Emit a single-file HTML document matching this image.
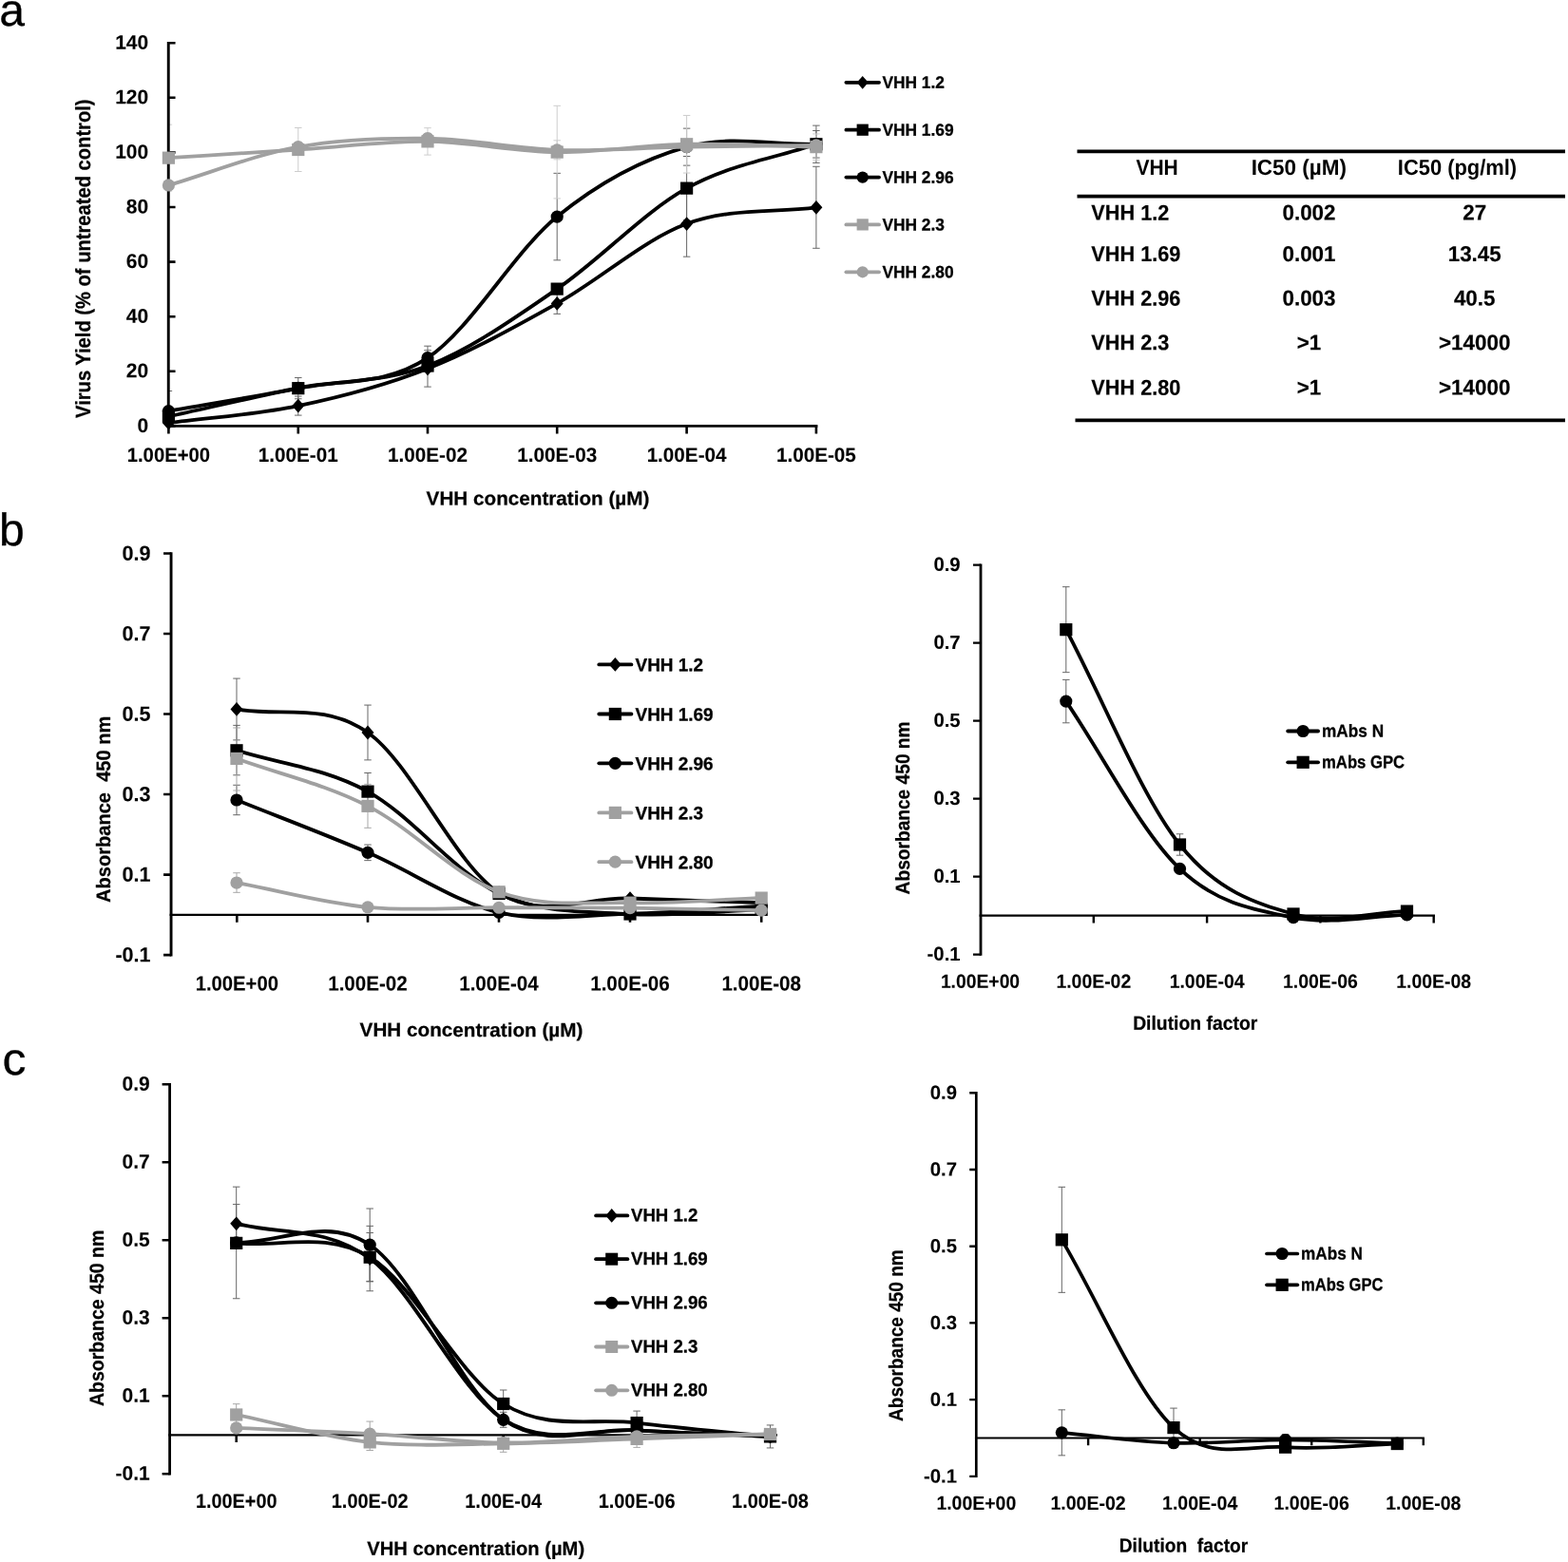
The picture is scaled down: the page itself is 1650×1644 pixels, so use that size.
<!DOCTYPE html>
<html lang="en">
<head>
<meta charset="utf-8">
<title>Figure: VHH neutralisation and ELISA binding</title>
<style>
html,body{margin:0;padding:0;background:#fff;}
body{width:1650px;height:1644px;overflow:hidden;}
svg{display:block;}
text{white-space:pre;text-rendering:geometricPrecision;stroke:#000;stroke-width:0.1px;stroke-linejoin:round;}
text.lg{stroke-width:0.3px;}
text.tt{stroke-width:0.25px;}
text.pl{stroke-width:0.3px;}
text.th{stroke:none;}
text.tb{stroke-width:0.2px;}
</style>
</head>
<body>
<svg width="1650" height="1644" viewBox="0 0 1650 1644" font-family='"Liberation Sans", "DejaVu Sans", sans-serif' font-weight="bold" fill="#000">
<rect width="1650" height="1644" fill="#fff"/>
<text x="-0.7" y="27" font-size="48" transform="rotate(0.04 -0.7 27)" font-weight="normal" class="pl">a</text>
<text x="-1" y="574" font-size="48" transform="rotate(0.04 -1 574)" font-weight="normal" class="pl">b</text>
<text x="2.6" y="1131" font-size="48" textLength="24.96" lengthAdjust="spacingAndGlyphs" transform="rotate(0.04 2.6 1131)" font-weight="normal" class="pl">c</text>
<g>
<clipPath id="pa1"><rect x="177.25" y="15.2" width="713.15" height="433.2"/></clipPath>
<g clip-path="url(#pa1)">
<path d="M313.8 417.09V437.09M310.05 417.09H317.55M310.05 437.09H317.55" stroke="#676767" stroke-width="1" fill="none"/>
<path d="M450 368.72V407.12M446.25 368.72H453.75M446.25 407.12H453.75" stroke="#676767" stroke-width="1" fill="none"/>
<path d="M586.2 308.38V330.38M582.45 308.38H589.95M582.45 330.38H589.95" stroke="#676767" stroke-width="1" fill="none"/>
<path d="M722.6 200.97V270.17M718.85 200.97H726.35M718.85 270.17H726.35" stroke="#676767" stroke-width="1" fill="none"/>
<path d="M858.9 175.29V261.29M855.15 175.29H862.65M855.15 261.29H862.65" stroke="#676767" stroke-width="1" fill="none"/>
<path d="M313.8 397.56V419.76M310.05 397.56H317.55M310.05 419.76H317.55" stroke="#676767" stroke-width="1" fill="none"/>
<path d="M586.2 300.11V308.11M582.45 300.11H589.95M582.45 308.11H589.95" stroke="#676767" stroke-width="1" fill="none"/>
<path d="M722.6 164.53V231.73M718.85 164.53H726.35M718.85 231.73H726.35" stroke="#676767" stroke-width="1" fill="none"/>
<path d="M858.9 132.11V171.41M855.15 132.11H862.65M855.15 171.41H862.65" stroke="#676767" stroke-width="1" fill="none"/>
<path d="M177.4 411.56V453.56M173.65 411.56H181.15M173.65 453.56H181.15" stroke="#676767" stroke-width="1" fill="none"/>
<path d="M313.8 405.37V411.37M310.05 405.37H317.55M310.05 411.37H317.55" stroke="#676767" stroke-width="1" fill="none"/>
<path d="M450 364.19V389.19M446.25 364.19H453.75M446.25 389.19H453.75" stroke="#676767" stroke-width="1" fill="none"/>
<path d="M586.2 182.33V273.83M582.45 182.33H589.95M582.45 273.83H589.95" stroke="#676767" stroke-width="1" fill="none"/>
<path d="M722.6 135.14V174.14M718.85 135.14H726.35M718.85 174.14H726.35" stroke="#676767" stroke-width="1" fill="none"/>
<path d="M858.9 137.46V166.06M855.15 137.46H862.65M855.15 166.06H862.65" stroke="#676767" stroke-width="1" fill="none"/>
<path d="M177.4 131.16V201.16M173.65 131.16H181.15M173.65 201.16H181.15" stroke="#cdcdcd" stroke-width="1" fill="none"/>
<path d="M313.8 134.52V180.52M310.05 134.52H317.55M310.05 180.52H317.55" stroke="#cdcdcd" stroke-width="1" fill="none"/>
<path d="M450 134.68V163.08M446.25 134.68H453.75M446.25 163.08H453.75" stroke="#cdcdcd" stroke-width="1" fill="none"/>
<path d="M586.2 111.31V208.91M582.45 111.31H589.95M582.45 208.91H589.95" stroke="#cdcdcd" stroke-width="1" fill="none"/>
<path d="M722.6 121.46V182.06M718.85 121.46H726.35M718.85 182.06H726.35" stroke="#cdcdcd" stroke-width="1" fill="none"/>
<path d="M858.9 140.94V168.34M855.15 140.94H862.65M855.15 168.34H862.65" stroke="#cdcdcd" stroke-width="1" fill="none"/>
<path d="M313.8 149.64V159.64M310.05 149.64H317.55M310.05 159.64H317.55" stroke="#cdcdcd" stroke-width="1" fill="none"/>
<path d="M450 140.71V150.71M446.25 140.71H453.75M446.25 150.71H453.75" stroke="#cdcdcd" stroke-width="1" fill="none"/>
<path d="M586.2 147.81V167.81M582.45 147.81H589.95M582.45 167.81H589.95" stroke="#cdcdcd" stroke-width="1" fill="none"/>
</g>
<path d="M177.25 43.9V449.7" stroke="#000" stroke-width="2.9" fill="none"/>
<path d="M177.25 448.4H184.55M177.25 390.8H184.55M177.25 333.2H184.55M177.25 275.6H184.55M177.25 218H184.55M177.25 160.4H184.55M177.25 102.8H184.55M177.25 45.2H184.55" stroke="#000" stroke-width="2.6" fill="none"/>
<path d="M175.8 448.4H860.4" stroke="#000" stroke-width="2.9" fill="none"/>
<path d="M177.4 448.4V456.4M313.8 448.4V456.4M450 448.4V456.4M586.2 448.4V456.4M722.6 448.4V456.4M858.9 448.4V456.4" stroke="#000" stroke-width="2.6" fill="none"/>
<text x="156.2" y="454.9" font-size="21.1" text-anchor="end" textLength="11.68" lengthAdjust="spacingAndGlyphs" transform="rotate(0.04 156.2 454.9)">0</text>
<text x="156.2" y="397.3" font-size="21.1" text-anchor="end" textLength="23.35" lengthAdjust="spacingAndGlyphs" transform="rotate(0.04 156.2 397.3)">20</text>
<text x="156.2" y="339.7" font-size="21.1" text-anchor="end" textLength="23.35" lengthAdjust="spacingAndGlyphs" transform="rotate(0.04 156.2 339.7)">40</text>
<text x="156.2" y="282.1" font-size="21.1" text-anchor="end" textLength="23.35" lengthAdjust="spacingAndGlyphs" transform="rotate(0.04 156.2 282.1)">60</text>
<text x="156.2" y="224.5" font-size="21.1" text-anchor="end" textLength="23.35" lengthAdjust="spacingAndGlyphs" transform="rotate(0.04 156.2 224.5)">80</text>
<text x="156.2" y="166.9" font-size="21.1" text-anchor="end" textLength="35.03" lengthAdjust="spacingAndGlyphs" transform="rotate(0.04 156.2 166.9)">100</text>
<text x="156.2" y="109.3" font-size="21.1" text-anchor="end" textLength="35.03" lengthAdjust="spacingAndGlyphs" transform="rotate(0.04 156.2 109.3)">120</text>
<text x="156.2" y="51.7" font-size="21.1" text-anchor="end" textLength="35.03" lengthAdjust="spacingAndGlyphs" transform="rotate(0.04 156.2 51.7)">140</text>
<text x="177.4" y="486" font-size="21.1" text-anchor="middle" textLength="87.42" lengthAdjust="spacingAndGlyphs" transform="rotate(0.04 177.4 486)">1.00E+00</text>
<text x="313.8" y="486" font-size="21.1" text-anchor="middle" textLength="83.92" lengthAdjust="spacingAndGlyphs" transform="rotate(0.04 313.8 486)">1.00E-01</text>
<text x="450" y="486" font-size="21.1" text-anchor="middle" textLength="83.92" lengthAdjust="spacingAndGlyphs" transform="rotate(0.04 450 486)">1.00E-02</text>
<text x="586.2" y="486" font-size="21.1" text-anchor="middle" textLength="83.92" lengthAdjust="spacingAndGlyphs" transform="rotate(0.04 586.2 486)">1.00E-03</text>
<text x="722.6" y="486" font-size="21.1" text-anchor="middle" textLength="83.92" lengthAdjust="spacingAndGlyphs" transform="rotate(0.04 722.6 486)">1.00E-04</text>
<text x="858.9" y="486" font-size="21.1" text-anchor="middle" textLength="83.92" lengthAdjust="spacingAndGlyphs" transform="rotate(0.04 858.9 486)">1.00E-05</text>
<text x="95.3" y="272.2" font-size="22" text-anchor="middle" textLength="335.5" lengthAdjust="spacingAndGlyphs" transform="rotate(-90 95.3 272.2)" class="tt">Virus Yield (% of untreated control)</text>
<text x="566" y="531.5" font-size="20.4" text-anchor="middle" textLength="234.77" lengthAdjust="spacingAndGlyphs" transform="rotate(0.04 566 531.5)" class="tt">VHH concentration (µM)</text>
<path d="M177.4 445.23C222.87 439.18 268.37 436.64 313.8 427.09C359.23 417.54 404.6 405.87 450 387.92C495.4 369.97 540.77 344.77 586.2 319.38C631.63 293.98 677.15 252.42 722.6 235.57C768.05 218.72 813.47 224.05 858.9 218.29" stroke="#000" stroke-width="3.8" fill="none" stroke-linecap="round" stroke-linejoin="round"/>
<path d="M177.4 437.84L183.87 445.23L177.4 452.62L170.93 445.23Z" fill="#000"/>
<path d="M313.8 419.7L320.27 427.09L313.8 434.48L307.33 427.09Z" fill="#000"/>
<path d="M450 380.53L456.47 387.92L450 395.31L443.53 387.92Z" fill="#000"/>
<path d="M586.2 311.98L592.67 319.38L586.2 326.77L579.73 319.38Z" fill="#000"/>
<path d="M722.6 228.18L729.07 235.57L722.6 242.96L716.13 235.57Z" fill="#000"/>
<path d="M858.9 210.9L865.37 218.29L858.9 225.68L852.43 218.29Z" fill="#000"/>
<path d="M177.4 438.32C222.87 428.43 268.37 417.54 313.8 408.66C359.23 399.78 404.6 402.46 450 385.04C495.4 367.62 540.77 335.26 586.2 304.11C631.63 272.96 677.15 223.52 722.6 198.13C768.05 172.74 813.47 167.22 858.9 151.76" stroke="#000" stroke-width="3.8" fill="none" stroke-linecap="round" stroke-linejoin="round"/>
<rect x="170.8" y="431.72" width="13.2" height="13.2" fill="#000"/>
<rect x="307.2" y="402.06" width="13.2" height="13.2" fill="#000"/>
<rect x="443.4" y="378.44" width="13.2" height="13.2" fill="#000"/>
<rect x="579.6" y="297.51" width="13.2" height="13.2" fill="#000"/>
<rect x="716" y="191.53" width="13.2" height="13.2" fill="#000"/>
<rect x="852.3" y="145.16" width="13.2" height="13.2" fill="#000"/>
<path d="M177.4 432.56C222.87 424.5 268.37 417.68 313.8 408.37C359.23 399.06 404.6 406.74 450 376.69C495.4 346.64 540.77 265.09 586.2 228.08C631.63 191.07 677.15 167.36 722.6 154.64C768.05 141.92 813.47 152.72 858.9 151.76" stroke="#000" stroke-width="3.8" fill="none" stroke-linecap="round" stroke-linejoin="round"/>
<circle cx="177.4" cy="432.56" r="6.6" fill="#000"/>
<circle cx="313.8" cy="408.37" r="6.6" fill="#000"/>
<circle cx="450" cy="376.69" r="6.6" fill="#000"/>
<circle cx="586.2" cy="228.08" r="6.6" fill="#000"/>
<circle cx="722.6" cy="154.64" r="6.6" fill="#000"/>
<circle cx="858.9" cy="151.76" r="6.6" fill="#000"/>
<path d="M177.4 166.16C222.87 163.28 268.37 160.4 313.8 157.52C359.23 154.64 404.6 148.45 450 148.88C495.4 149.31 540.77 159.63 586.2 160.11C631.63 160.59 677.15 152.67 722.6 151.76C768.05 150.85 813.47 153.68 858.9 154.64" stroke="#a0a0a0" stroke-width="3.8" fill="none" stroke-linecap="round" stroke-linejoin="round"/>
<rect x="170.8" y="159.56" width="13.2" height="13.2" fill="#a0a0a0"/>
<rect x="307.2" y="150.92" width="13.2" height="13.2" fill="#a0a0a0"/>
<rect x="443.4" y="142.28" width="13.2" height="13.2" fill="#a0a0a0"/>
<rect x="579.6" y="153.51" width="13.2" height="13.2" fill="#a0a0a0"/>
<rect x="716" y="145.16" width="13.2" height="13.2" fill="#a0a0a0"/>
<rect x="852.3" y="148.04" width="13.2" height="13.2" fill="#a0a0a0"/>
<path d="M177.4 194.96C222.87 181.52 268.37 162.85 313.8 154.64C359.23 146.43 404.6 145.18 450 145.71C495.4 146.24 540.77 156.32 586.2 157.81C631.63 159.3 677.15 155.46 722.6 154.64C768.05 153.82 813.47 153.49 858.9 152.91" stroke="#a0a0a0" stroke-width="3.8" fill="none" stroke-linecap="round" stroke-linejoin="round"/>
<circle cx="177.4" cy="194.96" r="6.6" fill="#a0a0a0"/>
<circle cx="313.8" cy="154.64" r="6.6" fill="#a0a0a0"/>
<circle cx="450" cy="145.71" r="6.6" fill="#a0a0a0"/>
<circle cx="586.2" cy="157.81" r="6.6" fill="#a0a0a0"/>
<circle cx="722.6" cy="154.64" r="6.6" fill="#a0a0a0"/>
<circle cx="858.9" cy="152.91" r="6.6" fill="#a0a0a0"/>
<path d="M890.4 86.8H925" stroke="#000" stroke-width="3.8" stroke-linecap="round" fill="none"/>
<path d="M907.7 79.97L913.68 86.8L907.7 93.63L901.72 86.8Z" fill="#000"/>
<text x="928.4" y="92.8" font-size="17.8" textLength="65.59" lengthAdjust="spacingAndGlyphs" transform="rotate(0.04 928.4 92.8)" class="lg">VHH 1.2</text>
<path d="M890.4 136.7H925" stroke="#000" stroke-width="3.8" stroke-linecap="round" fill="none"/>
<rect x="901.6" y="130.6" width="12.2" height="12.2" fill="#000"/>
<text x="928.4" y="142.7" font-size="17.8" textLength="75.24" lengthAdjust="spacingAndGlyphs" transform="rotate(0.04 928.4 142.7)" class="lg">VHH 1.69</text>
<path d="M890.4 186.6H925" stroke="#000" stroke-width="3.8" stroke-linecap="round" fill="none"/>
<circle cx="907.7" cy="186.6" r="6.1" fill="#000"/>
<text x="928.4" y="192.6" font-size="17.8" textLength="75.24" lengthAdjust="spacingAndGlyphs" transform="rotate(0.04 928.4 192.6)" class="lg">VHH 2.96</text>
<path d="M890.4 236.4H925" stroke="#a0a0a0" stroke-width="3.8" stroke-linecap="round" fill="none"/>
<rect x="901.6" y="230.3" width="12.2" height="12.2" fill="#a0a0a0"/>
<text x="928.4" y="242.4" font-size="17.8" textLength="65.59" lengthAdjust="spacingAndGlyphs" transform="rotate(0.04 928.4 242.4)" class="lg">VHH 2.3</text>
<path d="M890.4 286.3H925" stroke="#a0a0a0" stroke-width="3.8" stroke-linecap="round" fill="none"/>
<circle cx="907.7" cy="286.3" r="6.1" fill="#a0a0a0"/>
<text x="928.4" y="292.3" font-size="17.8" textLength="75.24" lengthAdjust="spacingAndGlyphs" transform="rotate(0.04 928.4 292.3)" class="lg">VHH 2.80</text>
</g>
<g>
<clipPath id="pa2"><rect x="180.05" y="552.51" width="652.55" height="452.6"/></clipPath>
<g clip-path="url(#pa2)">
<path d="M249 714.08V778.88M245.25 714.08H252.75M245.25 778.88H252.75" stroke="#676767" stroke-width="1" fill="none"/>
<path d="M387 742.09V799.89M383.25 742.09H390.75M383.25 799.89H390.75" stroke="#676767" stroke-width="1" fill="none"/>
<path d="M249 763.4V815.8M245.25 763.4H252.75M245.25 815.8H252.75" stroke="#676767" stroke-width="1" fill="none"/>
<path d="M387 813.51V852.71M383.25 813.51H390.75M383.25 852.71H390.75" stroke="#676767" stroke-width="1" fill="none"/>
<path d="M249 826.29V857.69M245.25 826.29H252.75M245.25 857.69H252.75" stroke="#676767" stroke-width="1" fill="none"/>
<path d="M387 889.05V905.65M383.25 889.05H390.75M383.25 905.65H390.75" stroke="#676767" stroke-width="1" fill="none"/>
<path d="M249 766V832M245.25 766H252.75M245.25 832H252.75" stroke="#a8a8a8" stroke-width="1" fill="none"/>
<path d="M387 825.33V871.33M383.25 825.33H390.75M383.25 871.33H390.75" stroke="#a8a8a8" stroke-width="1" fill="none"/>
<path d="M249 918.74V939.34M245.25 918.74H252.75M245.25 939.34H252.75" stroke="#a8a8a8" stroke-width="1" fill="none"/>
</g>
<path d="M180.05 581.21V1006.41" stroke="#000" stroke-width="2.9" fill="none"/>
<path d="M180.05 1005.11H172.05M180.05 920.59H172.05M180.05 836.07H172.05M180.05 751.55H172.05M180.05 667.03H172.05M180.05 582.51H172.05" stroke="#000" stroke-width="2.6" fill="none"/>
<path d="M178.6 962.85H802.6" stroke="#000" stroke-width="2.3" fill="none"/>
<path d="M249.3 962.85V970.65M387 962.85V970.65M525 962.85V970.65M663 962.85V970.65M801.2 962.85V970.65" stroke="#000" stroke-width="2.6" fill="none"/>
<text x="158.6" y="1012.31" font-size="21.9" text-anchor="end" textLength="37.17" lengthAdjust="spacingAndGlyphs" transform="rotate(0.04 158.6 1012.31)">-0.1</text>
<text x="158.6" y="927.79" font-size="21.9" text-anchor="end" textLength="29.99" lengthAdjust="spacingAndGlyphs" transform="rotate(0.04 158.6 927.79)">0.1</text>
<text x="158.6" y="843.27" font-size="21.9" text-anchor="end" textLength="29.99" lengthAdjust="spacingAndGlyphs" transform="rotate(0.04 158.6 843.27)">0.3</text>
<text x="158.6" y="758.75" font-size="21.9" text-anchor="end" textLength="29.99" lengthAdjust="spacingAndGlyphs" transform="rotate(0.04 158.6 758.75)">0.5</text>
<text x="158.6" y="674.23" font-size="21.9" text-anchor="end" textLength="29.99" lengthAdjust="spacingAndGlyphs" transform="rotate(0.04 158.6 674.23)">0.7</text>
<text x="158.6" y="589.71" font-size="21.9" text-anchor="end" textLength="29.99" lengthAdjust="spacingAndGlyphs" transform="rotate(0.04 158.6 589.71)">0.9</text>
<text x="249.3" y="1042.6" font-size="21.9" text-anchor="middle" textLength="87.3" lengthAdjust="spacingAndGlyphs" transform="rotate(0.04 249.3 1042.6)">1.00E+00</text>
<text x="387" y="1042.6" font-size="21.9" text-anchor="middle" textLength="83.6" lengthAdjust="spacingAndGlyphs" transform="rotate(0.04 387 1042.6)">1.00E-02</text>
<text x="525" y="1042.6" font-size="21.9" text-anchor="middle" textLength="83.6" lengthAdjust="spacingAndGlyphs" transform="rotate(0.04 525 1042.6)">1.00E-04</text>
<text x="663" y="1042.6" font-size="21.9" text-anchor="middle" textLength="83.6" lengthAdjust="spacingAndGlyphs" transform="rotate(0.04 663 1042.6)">1.00E-06</text>
<text x="801.2" y="1042.6" font-size="21.9" text-anchor="middle" textLength="83.6" lengthAdjust="spacingAndGlyphs" transform="rotate(0.04 801.2 1042.6)">1.00E-08</text>
<text x="116.3" y="851.8" font-size="20.8" text-anchor="middle" textLength="196.33" lengthAdjust="spacingAndGlyphs" transform="rotate(-90 116.3 851.8)" class="tt">Absorbance  450 nm</text>
<text x="496" y="1090.9" font-size="20.4" text-anchor="middle" textLength="234.77" lengthAdjust="spacingAndGlyphs" transform="rotate(0.04 496 1090.9)" class="tt">VHH concentration (µM)</text>
<path d="M249 746.48C295 754.65 340.98 738.8 387 770.99C433.02 803.18 479.1 910.52 525.1 939.61C571.1 968.7 616.98 943.76 663 945.52C709.02 947.28 755.13 948.62 801.2 950.17" stroke="#000" stroke-width="3.8" fill="none" stroke-linecap="round" stroke-linejoin="round"/>
<path d="M249 739.09L255.47 746.48L249 753.87L242.53 746.48Z" fill="#000"/>
<path d="M387 763.6L393.47 770.99L387 778.38L380.53 770.99Z" fill="#000"/>
<path d="M525.1 932.21L531.57 939.61L525.1 947L518.63 939.61Z" fill="#000"/>
<path d="M663 938.13L669.47 945.52L663 952.92L656.53 945.52Z" fill="#000"/>
<path d="M801.2 942.78L807.67 950.17L801.2 957.56L794.73 950.17Z" fill="#000"/>
<path d="M249 789.8C295 804.23 340.98 808 387 833.11C433.02 858.22 479.1 918.97 525.1 940.45C571.1 961.93 616.98 959.19 663 962C709.02 964.82 755.13 958.91 801.2 957.36" stroke="#000" stroke-width="3.8" fill="none" stroke-linecap="round" stroke-linejoin="round"/>
<rect x="242.4" y="783.2" width="13.2" height="13.2" fill="#000"/>
<rect x="380.4" y="826.51" width="13.2" height="13.2" fill="#000"/>
<rect x="518.5" y="933.85" width="13.2" height="13.2" fill="#000"/>
<rect x="656.4" y="955.4" width="13.2" height="13.2" fill="#000"/>
<rect x="794.6" y="950.76" width="13.2" height="13.2" fill="#000"/>
<path d="M249 841.99C295 860.44 340.98 877.63 387 897.35C433.02 917.07 479.1 949.61 525.1 960.31C571.1 971.02 616.98 962.71 663 961.58C709.02 960.46 755.13 956.23 801.2 953.55" stroke="#000" stroke-width="3.8" fill="none" stroke-linecap="round" stroke-linejoin="round"/>
<circle cx="249" cy="841.99" r="6.6" fill="#000"/>
<circle cx="387" cy="897.35" r="6.6" fill="#000"/>
<circle cx="525.1" cy="960.31" r="6.6" fill="#000"/>
<circle cx="663" cy="961.58" r="6.6" fill="#000"/>
<circle cx="801.2" cy="953.55" r="6.6" fill="#000"/>
<path d="M249 798.46C295 815.08 340.98 824.94 387 848.33C433.02 871.71 479.1 921.79 525.1 938.76C571.1 955.74 616.98 949.12 663 950.17C709.02 951.23 755.13 946.79 801.2 945.1" stroke="#a0a0a0" stroke-width="3.8" fill="none" stroke-linecap="round" stroke-linejoin="round"/>
<rect x="242.4" y="791.86" width="13.2" height="13.2" fill="#a0a0a0"/>
<rect x="380.4" y="841.73" width="13.2" height="13.2" fill="#a0a0a0"/>
<rect x="518.5" y="932.16" width="13.2" height="13.2" fill="#a0a0a0"/>
<rect x="656.4" y="943.57" width="13.2" height="13.2" fill="#a0a0a0"/>
<rect x="794.6" y="938.5" width="13.2" height="13.2" fill="#a0a0a0"/>
<path d="M249 929.04C295 937.63 340.98 950.45 387 954.82C433.02 959.19 479.1 955.1 525.1 955.24C571.1 955.38 616.98 955.17 663 955.67C709.02 956.16 755.13 957.36 801.2 958.2" stroke="#a0a0a0" stroke-width="3.8" fill="none" stroke-linecap="round" stroke-linejoin="round"/>
<circle cx="249" cy="929.04" r="6.6" fill="#a0a0a0"/>
<circle cx="387" cy="954.82" r="6.6" fill="#a0a0a0"/>
<circle cx="525.1" cy="955.24" r="6.6" fill="#a0a0a0"/>
<circle cx="663" cy="955.67" r="6.6" fill="#a0a0a0"/>
<circle cx="801.2" cy="958.2" r="6.6" fill="#a0a0a0"/>
<path d="M630.3 699.4H664.4" stroke="#000" stroke-width="3.8" stroke-linecap="round" fill="none"/>
<path d="M647.35 692.01L653.82 699.4L647.35 706.79L640.88 699.4Z" fill="#000"/>
<text x="668.5" y="706.3" font-size="19.1" textLength="71.61" lengthAdjust="spacingAndGlyphs" transform="rotate(0.04 668.5 706.3)" class="lg">VHH 1.2</text>
<path d="M630.3 751.5H664.4" stroke="#000" stroke-width="3.8" stroke-linecap="round" fill="none"/>
<rect x="640.75" y="744.9" width="13.2" height="13.2" fill="#000"/>
<text x="668.5" y="758.4" font-size="19.1" textLength="82.14" lengthAdjust="spacingAndGlyphs" transform="rotate(0.04 668.5 758.4)" class="lg">VHH 1.69</text>
<path d="M630.3 803.3H664.4" stroke="#000" stroke-width="3.8" stroke-linecap="round" fill="none"/>
<circle cx="647.35" cy="803.3" r="6.6" fill="#000"/>
<text x="668.5" y="810.2" font-size="19.1" textLength="82.14" lengthAdjust="spacingAndGlyphs" transform="rotate(0.04 668.5 810.2)" class="lg">VHH 2.96</text>
<path d="M630.3 855.4H664.4" stroke="#a0a0a0" stroke-width="3.8" stroke-linecap="round" fill="none"/>
<rect x="640.75" y="848.8" width="13.2" height="13.2" fill="#a0a0a0"/>
<text x="668.5" y="862.3" font-size="19.1" textLength="71.61" lengthAdjust="spacingAndGlyphs" transform="rotate(0.04 668.5 862.3)" class="lg">VHH 2.3</text>
<path d="M630.3 907.2H664.4" stroke="#a0a0a0" stroke-width="3.8" stroke-linecap="round" fill="none"/>
<circle cx="647.35" cy="907.2" r="6.6" fill="#a0a0a0"/>
<text x="668.5" y="914.1" font-size="19.1" textLength="82.14" lengthAdjust="spacingAndGlyphs" transform="rotate(0.04 668.5 914.1)" class="lg">VHH 2.80</text>
</g>
<g>
<clipPath id="pa3"><rect x="1032" y="564.6" width="508" height="440"/></clipPath>
<g clip-path="url(#pa3)">
<path d="M1121.8 715.4V760.8M1118.05 715.4H1125.55M1118.05 760.8H1125.55" stroke="#676767" stroke-width="1" fill="none"/>
<path d="M1241.5 911.4V917.4M1237.75 911.4H1245.25M1237.75 917.4H1245.25" stroke="#676767" stroke-width="1" fill="none"/>
<path d="M1361 962.65V968.65M1357.25 962.65H1364.75M1357.25 968.65H1364.75" stroke="#676767" stroke-width="1" fill="none"/>
<path d="M1480.5 959.78V965.78M1476.75 959.78H1484.25M1476.75 965.78H1484.25" stroke="#676767" stroke-width="1" fill="none"/>
<path d="M1121.8 617.66V707.66M1118.05 617.66H1125.55M1118.05 707.66H1125.55" stroke="#676767" stroke-width="1" fill="none"/>
<path d="M1241.5 877.78V900.18M1237.75 877.78H1245.25M1237.75 900.18H1245.25" stroke="#676767" stroke-width="1" fill="none"/>
<path d="M1361 958.96V964.96M1357.25 958.96H1364.75M1357.25 964.96H1364.75" stroke="#676767" stroke-width="1" fill="none"/>
<path d="M1480.5 956.09V962.09M1476.75 956.09H1484.25M1476.75 962.09H1484.25" stroke="#676767" stroke-width="1" fill="none"/>
</g>
<path d="M1032 593.4V1005.8" stroke="#000" stroke-width="2.8" fill="none"/>
<path d="M1032 1004.6H1024M1032 922.6H1024M1032 840.6H1024M1032 758.6H1024M1032 676.6H1024M1032 594.6H1024" stroke="#000" stroke-width="2.4" fill="none"/>
<path d="M1030.6 963.6H1510" stroke="#000" stroke-width="2.2" fill="none"/>
<path d="M1150.8 963.6V971.4M1270.1 963.6V971.4M1389.4 963.6V971.4M1508.7 963.6V971.4" stroke="#000" stroke-width="2.4" fill="none"/>
<text x="1010.6" y="1010.9" font-size="20.3" text-anchor="end" textLength="34.98" lengthAdjust="spacingAndGlyphs" transform="rotate(0.04 1010.6 1010.9)">-0.1</text>
<text x="1010.6" y="928.9" font-size="20.3" text-anchor="end" textLength="28.22" lengthAdjust="spacingAndGlyphs" transform="rotate(0.04 1010.6 928.9)">0.1</text>
<text x="1010.6" y="846.9" font-size="20.3" text-anchor="end" textLength="28.22" lengthAdjust="spacingAndGlyphs" transform="rotate(0.04 1010.6 846.9)">0.3</text>
<text x="1010.6" y="764.9" font-size="20.3" text-anchor="end" textLength="28.22" lengthAdjust="spacingAndGlyphs" transform="rotate(0.04 1010.6 764.9)">0.5</text>
<text x="1010.6" y="682.9" font-size="20.3" text-anchor="end" textLength="28.22" lengthAdjust="spacingAndGlyphs" transform="rotate(0.04 1010.6 682.9)">0.7</text>
<text x="1010.6" y="600.9" font-size="20.3" text-anchor="end" textLength="28.22" lengthAdjust="spacingAndGlyphs" transform="rotate(0.04 1010.6 600.9)">0.9</text>
<text x="1031.5" y="1039.8" font-size="20.3" text-anchor="middle" textLength="83.24" lengthAdjust="spacingAndGlyphs" transform="rotate(0.04 1031.5 1039.8)">1.00E+00</text>
<text x="1150.8" y="1039.8" font-size="20.3" text-anchor="middle" textLength="78.85" lengthAdjust="spacingAndGlyphs" transform="rotate(0.04 1150.8 1039.8)">1.00E-02</text>
<text x="1270.1" y="1039.8" font-size="20.3" text-anchor="middle" textLength="78.85" lengthAdjust="spacingAndGlyphs" transform="rotate(0.04 1270.1 1039.8)">1.00E-04</text>
<text x="1389.4" y="1039.8" font-size="20.3" text-anchor="middle" textLength="78.85" lengthAdjust="spacingAndGlyphs" transform="rotate(0.04 1389.4 1039.8)">1.00E-06</text>
<text x="1508.7" y="1039.8" font-size="20.3" text-anchor="middle" textLength="78.85" lengthAdjust="spacingAndGlyphs" transform="rotate(0.04 1508.7 1039.8)">1.00E-08</text>
<text x="957.3" y="850.4" font-size="20.7" text-anchor="middle" textLength="181.97" lengthAdjust="spacingAndGlyphs" transform="rotate(-90 957.3 850.4)" class="tt">Absorbance 450 nm</text>
<text x="1257.7" y="1083.8" font-size="20.4" text-anchor="middle" textLength="131.07" lengthAdjust="spacingAndGlyphs" transform="rotate(0.04 1257.7 1083.8)" class="tt">Dilution factor</text>
<path d="M1121.8 738.1C1161.7 796.87 1201.63 876.48 1241.5 914.4C1281.37 952.32 1321.17 957.59 1361 965.65C1400.83 973.71 1440.67 963.74 1480.5 962.78" stroke="#000" stroke-width="3.8" fill="none" stroke-linecap="round" stroke-linejoin="round"/>
<circle cx="1121.8" cy="738.1" r="6.6" fill="#000"/>
<circle cx="1241.5" cy="914.4" r="6.6" fill="#000"/>
<circle cx="1361" cy="965.65" r="6.6" fill="#000"/>
<circle cx="1480.5" cy="962.78" r="6.6" fill="#000"/>
<path d="M1121.8 662.66C1161.7 738.1 1201.63 839.1 1241.5 888.98C1281.37 938.86 1321.17 950.28 1361 961.96C1400.83 973.64 1440.67 960.05 1480.5 959.09" stroke="#000" stroke-width="3.8" fill="none" stroke-linecap="round" stroke-linejoin="round"/>
<rect x="1115.2" y="656.06" width="13.2" height="13.2" fill="#000"/>
<rect x="1234.9" y="882.38" width="13.2" height="13.2" fill="#000"/>
<rect x="1354.4" y="955.36" width="13.2" height="13.2" fill="#000"/>
<rect x="1473.9" y="952.49" width="13.2" height="13.2" fill="#000"/>
<path d="M1355.2 769.5H1387.1" stroke="#000" stroke-width="3.8" stroke-linecap="round" fill="none"/>
<circle cx="1371.15" cy="769.5" r="6.6" fill="#000"/>
<text x="1391" y="775.4" font-size="18.6" textLength="65.08" lengthAdjust="spacingAndGlyphs" transform="rotate(0.04 1391 775.4)" class="lg">mAbs N</text>
<path d="M1355.2 802.3H1387.1" stroke="#000" stroke-width="3.8" stroke-linecap="round" fill="none"/>
<rect x="1364.55" y="795.7" width="13.2" height="13.2" fill="#000"/>
<text x="1391" y="808.2" font-size="18.6" textLength="87.14" lengthAdjust="spacingAndGlyphs" transform="rotate(0.04 1391 808.2)" class="lg">mAbs GPC</text>
</g>
<g>
<clipPath id="pa4"><rect x="178.6" y="1111.3" width="669.4" height="440"/></clipPath>
<g clip-path="url(#pa4)">
<path d="M248.7 1267.59V1307.99M244.95 1267.59H252.45M244.95 1307.99H252.45" stroke="#676767" stroke-width="1" fill="none"/>
<path d="M389.2 1290.37V1358.77M385.45 1290.37H392.95M385.45 1358.77H392.95" stroke="#676767" stroke-width="1" fill="none"/>
<path d="M810.5 1499.94V1523.94M806.75 1499.94H814.25M806.75 1523.94H814.25" stroke="#676767" stroke-width="1" fill="none"/>
<path d="M389.2 1297.52V1348.92M385.45 1297.52H392.95M385.45 1348.92H392.95" stroke="#676767" stroke-width="1" fill="none"/>
<path d="M529.7 1463V1492M525.95 1463H533.45M525.95 1492H533.45" stroke="#676767" stroke-width="1" fill="none"/>
<path d="M670.1 1485.09V1510.09M666.35 1485.09H673.85M666.35 1510.09H673.85" stroke="#676767" stroke-width="1" fill="none"/>
<path d="M248.7 1249.16V1366.76M244.95 1249.16H252.45M244.95 1366.76H252.45" stroke="#676767" stroke-width="1" fill="none"/>
<path d="M389.2 1272.02V1348.42M385.45 1272.02H392.95M385.45 1348.42H392.95" stroke="#676767" stroke-width="1" fill="none"/>
<path d="M529.7 1486.31V1502.31M525.95 1486.31H533.45M525.95 1502.31H533.45" stroke="#676767" stroke-width="1" fill="none"/>
<path d="M248.7 1477.68V1500.28M244.95 1477.68H252.45M244.95 1500.28H252.45" stroke="#a8a8a8" stroke-width="1" fill="none"/>
<path d="M389.2 1509.29V1526.48M385.45 1509.29H392.95M385.45 1526.48H392.95" stroke="#a8a8a8" stroke-width="1" fill="none"/>
<path d="M529.7 1510.32V1528.32M525.95 1510.32H533.45M525.95 1528.32H533.45" stroke="#a8a8a8" stroke-width="1" fill="none"/>
<path d="M670.1 1505.4V1523.4M666.35 1505.4H673.85M666.35 1523.4H673.85" stroke="#a8a8a8" stroke-width="1" fill="none"/>
<path d="M389.2 1496.07V1522.07M385.45 1496.07H392.95M385.45 1522.07H392.95" stroke="#a8a8a8" stroke-width="1" fill="none"/>
</g>
<path d="M178.6 1140.05V1552.55" stroke="#000" stroke-width="2.8" fill="none"/>
<path d="M178.6 1551.3H170.6M178.6 1469.3H170.6M178.6 1387.3H170.6M178.6 1305.3H170.6M178.6 1223.3H170.6M178.6 1141.3H170.6" stroke="#000" stroke-width="2.5" fill="none"/>
<path d="M177.2 1510.3H818" stroke="#000" stroke-width="2.2" fill="none"/>
<path d="M248.7 1510.3V1518.1M389.2 1510.3V1518.1M529.7 1510.3V1518.1M670.1 1510.3V1518.1M810.5 1510.3V1518.1" stroke="#000" stroke-width="2.5" fill="none"/>
<text x="157.75" y="1557.7" font-size="21.1" text-anchor="end" textLength="36.18" lengthAdjust="spacingAndGlyphs" transform="rotate(0.04 157.75 1557.7)">-0.1</text>
<text x="157.75" y="1475.7" font-size="21.1" text-anchor="end" textLength="29.19" lengthAdjust="spacingAndGlyphs" transform="rotate(0.04 157.75 1475.7)">0.1</text>
<text x="157.75" y="1393.7" font-size="21.1" text-anchor="end" textLength="29.19" lengthAdjust="spacingAndGlyphs" transform="rotate(0.04 157.75 1393.7)">0.3</text>
<text x="157.75" y="1311.7" font-size="21.1" text-anchor="end" textLength="29.19" lengthAdjust="spacingAndGlyphs" transform="rotate(0.04 157.75 1311.7)">0.5</text>
<text x="157.75" y="1229.7" font-size="21.1" text-anchor="end" textLength="29.19" lengthAdjust="spacingAndGlyphs" transform="rotate(0.04 157.75 1229.7)">0.7</text>
<text x="157.75" y="1147.7" font-size="21.1" text-anchor="end" textLength="29.19" lengthAdjust="spacingAndGlyphs" transform="rotate(0.04 157.75 1147.7)">0.9</text>
<text x="248.7" y="1587" font-size="21.1" text-anchor="middle" textLength="85.57" lengthAdjust="spacingAndGlyphs" transform="rotate(0.04 248.7 1587)">1.00E+00</text>
<text x="389.2" y="1587" font-size="21.1" text-anchor="middle" textLength="80.84" lengthAdjust="spacingAndGlyphs" transform="rotate(0.04 389.2 1587)">1.00E-02</text>
<text x="529.7" y="1587" font-size="21.1" text-anchor="middle" textLength="80.84" lengthAdjust="spacingAndGlyphs" transform="rotate(0.04 529.7 1587)">1.00E-04</text>
<text x="670.1" y="1587" font-size="21.1" text-anchor="middle" textLength="80.84" lengthAdjust="spacingAndGlyphs" transform="rotate(0.04 670.1 1587)">1.00E-06</text>
<text x="810.5" y="1587" font-size="21.1" text-anchor="middle" textLength="80.84" lengthAdjust="spacingAndGlyphs" transform="rotate(0.04 810.5 1587)">1.00E-08</text>
<text x="109.2" y="1387.4" font-size="20.9" text-anchor="middle" textLength="185.31" lengthAdjust="spacingAndGlyphs" transform="rotate(-90 109.2 1387.4)" class="tt">Absorbance 450 nm</text>
<text x="500.7" y="1636.8" font-size="20.4" text-anchor="middle" textLength="228.84" lengthAdjust="spacingAndGlyphs" transform="rotate(0.04 500.7 1636.8)" class="tt">VHH concentration (µM)</text>
<path d="M248.7 1287.79C295.53 1300.05 342.37 1290.22 389.2 1324.57C436.03 1358.92 482.88 1463.76 529.7 1493.9C576.52 1524.03 623.3 1502.37 670.1 1505.38C716.9 1508.39 763.7 1509.75 810.5 1511.94" stroke="#000" stroke-width="3.8" fill="none" stroke-linecap="round" stroke-linejoin="round"/>
<path d="M248.7 1280.4L255.17 1287.79L248.7 1295.18L242.23 1287.79Z" fill="#000"/>
<path d="M389.2 1317.18L395.67 1324.57L389.2 1331.96L382.73 1324.57Z" fill="#000"/>
<path d="M529.7 1486.51L536.17 1493.9L529.7 1501.29L523.23 1493.9Z" fill="#000"/>
<path d="M670.1 1497.99L676.57 1505.38L670.1 1512.77L663.63 1505.38Z" fill="#000"/>
<path d="M810.5 1504.55L816.97 1511.94L810.5 1519.33L804.03 1511.94Z" fill="#000"/>
<path d="M248.7 1308.38C295.53 1313.32 342.37 1295.03 389.2 1323.22C436.03 1351.4 482.88 1448.44 529.7 1477.5C576.52 1506.56 623.3 1491.85 670.1 1497.59C716.9 1503.33 763.7 1507.16 810.5 1511.94" stroke="#000" stroke-width="3.8" fill="none" stroke-linecap="round" stroke-linejoin="round"/>
<rect x="242.1" y="1301.78" width="13.2" height="13.2" fill="#000"/>
<rect x="382.6" y="1316.62" width="13.2" height="13.2" fill="#000"/>
<rect x="523.1" y="1470.9" width="13.2" height="13.2" fill="#000"/>
<rect x="663.5" y="1490.99" width="13.2" height="13.2" fill="#000"/>
<rect x="803.9" y="1505.34" width="13.2" height="13.2" fill="#000"/>
<path d="M248.7 1307.96C295.53 1308.72 342.37 1279.16 389.2 1310.22C436.03 1341.28 482.88 1461.78 529.7 1494.31C576.52 1526.84 623.3 1502.44 670.1 1505.38C716.9 1508.32 763.7 1509.75 810.5 1511.94" stroke="#000" stroke-width="3.8" fill="none" stroke-linecap="round" stroke-linejoin="round"/>
<circle cx="248.7" cy="1307.96" r="6.6" fill="#000"/>
<circle cx="389.2" cy="1310.22" r="6.6" fill="#000"/>
<circle cx="529.7" cy="1494.31" r="6.6" fill="#000"/>
<circle cx="670.1" cy="1505.38" r="6.6" fill="#000"/>
<circle cx="810.5" cy="1511.94" r="6.6" fill="#000"/>
<path d="M248.7 1488.98C295.53 1498.62 342.37 1512.83 389.2 1517.88C436.03 1522.94 482.88 1519.9 529.7 1519.32C576.52 1518.74 623.3 1516.04 670.1 1514.4C716.9 1512.76 763.7 1511.12 810.5 1509.48" stroke="#a0a0a0" stroke-width="3.8" fill="none" stroke-linecap="round" stroke-linejoin="round"/>
<rect x="242.1" y="1482.38" width="13.2" height="13.2" fill="#a0a0a0"/>
<rect x="382.6" y="1511.29" width="13.2" height="13.2" fill="#a0a0a0"/>
<rect x="523.1" y="1512.72" width="13.2" height="13.2" fill="#a0a0a0"/>
<rect x="663.5" y="1507.8" width="13.2" height="13.2" fill="#a0a0a0"/>
<rect x="803.9" y="1502.88" width="13.2" height="13.2" fill="#a0a0a0"/>
<path d="M248.7 1502.92C295.53 1504.97 342.37 1506.47 389.2 1509.07C436.03 1511.67 482.88 1518.02 529.7 1518.5C576.52 1518.98 623.3 1513.44 670.1 1511.94C716.9 1510.44 763.7 1510.3 810.5 1509.48" stroke="#a0a0a0" stroke-width="3.8" fill="none" stroke-linecap="round" stroke-linejoin="round"/>
<circle cx="248.7" cy="1502.92" r="6.6" fill="#a0a0a0"/>
<circle cx="389.2" cy="1509.07" r="6.6" fill="#a0a0a0"/>
<circle cx="529.7" cy="1518.5" r="6.6" fill="#a0a0a0"/>
<circle cx="670.1" cy="1511.94" r="6.6" fill="#a0a0a0"/>
<circle cx="810.5" cy="1509.48" r="6.6" fill="#a0a0a0"/>
<path d="M627.1 1279.4H660.3" stroke="#000" stroke-width="3.8" stroke-linecap="round" fill="none"/>
<path d="M643.7 1272.12L650.07 1279.4L643.7 1286.68L637.33 1279.4Z" fill="#000"/>
<text x="664" y="1285.3" font-size="19" textLength="70.37" lengthAdjust="spacingAndGlyphs" transform="rotate(0.04 664 1285.3)" class="lg">VHH 1.2</text>
<path d="M627.1 1325.2H660.3" stroke="#000" stroke-width="3.8" stroke-linecap="round" fill="none"/>
<rect x="637.2" y="1318.7" width="13" height="13" fill="#000"/>
<text x="664" y="1331.1" font-size="19" textLength="80.73" lengthAdjust="spacingAndGlyphs" transform="rotate(0.04 664 1331.1)" class="lg">VHH 1.69</text>
<path d="M627.1 1371.3H660.3" stroke="#000" stroke-width="3.8" stroke-linecap="round" fill="none"/>
<circle cx="643.7" cy="1371.3" r="6.5" fill="#000"/>
<text x="664" y="1377.2" font-size="19" textLength="80.73" lengthAdjust="spacingAndGlyphs" transform="rotate(0.04 664 1377.2)" class="lg">VHH 2.96</text>
<path d="M627.1 1417.5H660.3" stroke="#a0a0a0" stroke-width="3.8" stroke-linecap="round" fill="none"/>
<rect x="637.2" y="1411" width="13" height="13" fill="#a0a0a0"/>
<text x="664" y="1423.4" font-size="19" textLength="70.37" lengthAdjust="spacingAndGlyphs" transform="rotate(0.04 664 1423.4)" class="lg">VHH 2.3</text>
<path d="M627.1 1463.3H660.3" stroke="#a0a0a0" stroke-width="3.8" stroke-linecap="round" fill="none"/>
<circle cx="643.7" cy="1463.3" r="6.5" fill="#a0a0a0"/>
<text x="664" y="1469.2" font-size="19" textLength="80.73" lengthAdjust="spacingAndGlyphs" transform="rotate(0.04 664 1469.2)" class="lg">VHH 2.80</text>
</g>
<g>
<clipPath id="pa5"><rect x="1027.3" y="1120.26" width="501.6" height="433.6"/></clipPath>
<g clip-path="url(#pa5)">
<path d="M1117.3 1483.85V1531.85M1113.55 1483.85H1121.05M1113.55 1531.85H1121.05" stroke="#676767" stroke-width="1" fill="none"/>
<path d="M1235 1515.75V1521.75M1231.25 1515.75H1238.75M1231.25 1521.75H1238.75" stroke="#676767" stroke-width="1" fill="none"/>
<path d="M1352.6 1509.52V1521.52M1348.85 1509.52H1356.35M1348.85 1521.52H1356.35" stroke="#676767" stroke-width="1" fill="none"/>
<path d="M1470.3 1516.15V1522.15M1466.55 1516.15H1474.05M1466.55 1522.15H1474.05" stroke="#676767" stroke-width="1" fill="none"/>
<path d="M1117.3 1249.34V1360.34M1113.55 1249.34H1121.05M1113.55 1360.34H1121.05" stroke="#676767" stroke-width="1" fill="none"/>
<path d="M1235 1482.1V1523.1M1231.25 1482.1H1238.75M1231.25 1523.1H1238.75" stroke="#676767" stroke-width="1" fill="none"/>
<path d="M1352.6 1520.19V1526.19M1348.85 1520.19H1356.35M1348.85 1526.19H1356.35" stroke="#676767" stroke-width="1" fill="none"/>
<path d="M1470.3 1516.55V1522.55M1466.55 1516.55H1474.05M1466.55 1522.55H1474.05" stroke="#676767" stroke-width="1" fill="none"/>
</g>
<path d="M1027.3 1149.06V1555.06" stroke="#000" stroke-width="2.7" fill="none"/>
<path d="M1027.3 1553.86H1020.2M1027.3 1473.14H1020.2M1027.3 1392.42H1020.2M1027.3 1311.7H1020.2M1027.3 1230.98H1020.2M1027.3 1150.26H1020.2" stroke="#000" stroke-width="2.4" fill="none"/>
<path d="M1025.95 1513.5H1498.9" stroke="#000" stroke-width="2.2" fill="none"/>
<path d="M1145.1 1513.5V1521.3M1262.7 1513.5V1521.3M1380.2 1513.5V1521.3M1497.8 1513.5V1521.3" stroke="#000" stroke-width="2.4" fill="none"/>
<text x="1007" y="1560.46" font-size="20.3" text-anchor="end" textLength="34.98" lengthAdjust="spacingAndGlyphs" transform="rotate(0.04 1007 1560.46)">-0.1</text>
<text x="1007" y="1479.74" font-size="20.3" text-anchor="end" textLength="28.22" lengthAdjust="spacingAndGlyphs" transform="rotate(0.04 1007 1479.74)">0.1</text>
<text x="1007" y="1399.02" font-size="20.3" text-anchor="end" textLength="28.22" lengthAdjust="spacingAndGlyphs" transform="rotate(0.04 1007 1399.02)">0.3</text>
<text x="1007" y="1318.3" font-size="20.3" text-anchor="end" textLength="28.22" lengthAdjust="spacingAndGlyphs" transform="rotate(0.04 1007 1318.3)">0.5</text>
<text x="1007" y="1237.58" font-size="20.3" text-anchor="end" textLength="28.22" lengthAdjust="spacingAndGlyphs" transform="rotate(0.04 1007 1237.58)">0.7</text>
<text x="1007" y="1156.86" font-size="20.3" text-anchor="end" textLength="28.22" lengthAdjust="spacingAndGlyphs" transform="rotate(0.04 1007 1156.86)">0.9</text>
<text x="1027.3" y="1588.9" font-size="20.3" text-anchor="middle" textLength="83.85" lengthAdjust="spacingAndGlyphs" transform="rotate(0.04 1027.3 1588.9)">1.00E+00</text>
<text x="1145.1" y="1588.9" font-size="20.3" text-anchor="middle" textLength="79.26" lengthAdjust="spacingAndGlyphs" transform="rotate(0.04 1145.1 1588.9)">1.00E-02</text>
<text x="1262.7" y="1588.9" font-size="20.3" text-anchor="middle" textLength="79.26" lengthAdjust="spacingAndGlyphs" transform="rotate(0.04 1262.7 1588.9)">1.00E-04</text>
<text x="1380.2" y="1588.9" font-size="20.3" text-anchor="middle" textLength="79.26" lengthAdjust="spacingAndGlyphs" transform="rotate(0.04 1380.2 1588.9)">1.00E-06</text>
<text x="1497.8" y="1588.9" font-size="20.3" text-anchor="middle" textLength="79.26" lengthAdjust="spacingAndGlyphs" transform="rotate(0.04 1497.8 1588.9)">1.00E-08</text>
<text x="949.9" y="1405.6" font-size="20.8" text-anchor="middle" textLength="180.67" lengthAdjust="spacingAndGlyphs" transform="rotate(-90 949.9 1405.6)" class="tt">Absorbance 450 nm</text>
<text x="1245.5" y="1633.6" font-size="20.4" text-anchor="middle" textLength="135.51" lengthAdjust="spacingAndGlyphs" transform="rotate(0.04 1245.5 1633.6)" class="tt">Dilution  factor</text>
<path d="M1117.3 1507.85C1156.53 1511.48 1195.78 1517.47 1235 1518.75C1274.22 1520.02 1313.38 1515.45 1352.6 1515.52C1391.82 1515.59 1431.07 1517.94 1470.3 1519.15" stroke="#000" stroke-width="3.7" fill="none" stroke-linecap="round" stroke-linejoin="round"/>
<circle cx="1117.3" cy="1507.85" r="6.6" fill="#000"/>
<circle cx="1235" cy="1518.75" r="6.6" fill="#000"/>
<circle cx="1352.6" cy="1515.52" r="6.6" fill="#000"/>
<circle cx="1470.3" cy="1519.15" r="6.6" fill="#000"/>
<path d="M1117.3 1304.84C1156.53 1370.76 1195.78 1466.21 1235 1502.6C1274.22 1538.99 1313.38 1520.36 1352.6 1523.19C1391.82 1526.01 1431.07 1520.76 1470.3 1519.55" stroke="#000" stroke-width="3.7" fill="none" stroke-linecap="round" stroke-linejoin="round"/>
<rect x="1110.7" y="1298.24" width="13.2" height="13.2" fill="#000"/>
<rect x="1228.4" y="1496" width="13.2" height="13.2" fill="#000"/>
<rect x="1346" y="1516.59" width="13.2" height="13.2" fill="#000"/>
<rect x="1463.7" y="1512.95" width="13.2" height="13.2" fill="#000"/>
<path d="M1333 1319.5H1365.3" stroke="#000" stroke-width="3.7" stroke-linecap="round" fill="none"/>
<circle cx="1349.15" cy="1319.5" r="6.6" fill="#000"/>
<text x="1369" y="1325.5" font-size="18.6" textLength="64.87" lengthAdjust="spacingAndGlyphs" transform="rotate(0.04 1369 1325.5)" class="lg">mAbs N</text>
<path d="M1333 1352.3H1365.3" stroke="#000" stroke-width="3.7" stroke-linecap="round" fill="none"/>
<rect x="1342.55" y="1345.7" width="13.2" height="13.2" fill="#000"/>
<text x="1369" y="1358.3" font-size="18.6" textLength="86.46" lengthAdjust="spacingAndGlyphs" transform="rotate(0.04 1369 1358.3)" class="lg">mAbs GPC</text>
</g>
<g>
<path d="M1133.5 159.3H1647M1133.5 206.6H1647M1131.5 442.3H1647" stroke="#000" stroke-width="3.7" fill="none"/>
<text x="1217.6" y="184" font-size="23" text-anchor="middle" textLength="44.38" lengthAdjust="spacingAndGlyphs" transform="rotate(0.04 1217.6 184)" class="th">VHH</text>
<text x="1366.8" y="184" font-size="23" text-anchor="middle" textLength="100.34" lengthAdjust="spacingAndGlyphs" transform="rotate(0.04 1366.8 184)" class="th">IC50 (µM)</text>
<text x="1533.5" y="184" font-size="23" text-anchor="middle" textLength="125.3" lengthAdjust="spacingAndGlyphs" transform="rotate(0.04 1533.5 184)" class="th">IC50 (pg/ml)</text>
<text x="1148.3" y="231.6" font-size="22.9" textLength="82.05" lengthAdjust="spacingAndGlyphs" transform="rotate(0.04 1148.3 231.6)" class="tb">VHH 1.2</text>
<text x="1377.5" y="231.6" font-size="22.9" text-anchor="middle" textLength="55.99" lengthAdjust="spacingAndGlyphs" transform="rotate(0.04 1377.5 231.6)" class="tb">0.002</text>
<text x="1551.7" y="231.6" font-size="22.9" text-anchor="middle" textLength="24.89" lengthAdjust="spacingAndGlyphs" transform="rotate(0.04 1551.7 231.6)" class="tb">27</text>
<text x="1148.3" y="275" font-size="22.9" textLength="94.12" lengthAdjust="spacingAndGlyphs" transform="rotate(0.04 1148.3 275)" class="tb">VHH 1.69</text>
<text x="1377.5" y="275" font-size="22.9" text-anchor="middle" textLength="55.99" lengthAdjust="spacingAndGlyphs" transform="rotate(0.04 1377.5 275)" class="tb">0.001</text>
<text x="1551.7" y="275" font-size="22.9" text-anchor="middle" textLength="55.99" lengthAdjust="spacingAndGlyphs" transform="rotate(0.04 1551.7 275)" class="tb">13.45</text>
<text x="1148.3" y="321.6" font-size="22.9" textLength="94.12" lengthAdjust="spacingAndGlyphs" transform="rotate(0.04 1148.3 321.6)" class="tb">VHH 2.96</text>
<text x="1377.5" y="321.6" font-size="22.9" text-anchor="middle" textLength="55.99" lengthAdjust="spacingAndGlyphs" transform="rotate(0.04 1377.5 321.6)" class="tb">0.003</text>
<text x="1551.7" y="321.6" font-size="22.9" text-anchor="middle" textLength="43.55" lengthAdjust="spacingAndGlyphs" transform="rotate(0.04 1551.7 321.6)" class="tb">40.5</text>
<text x="1148.3" y="368.2" font-size="22.9" textLength="82.05" lengthAdjust="spacingAndGlyphs" transform="rotate(0.04 1148.3 368.2)" class="tb">VHH 2.3</text>
<text x="1377.5" y="368.2" font-size="22.9" text-anchor="middle" textLength="25.51" lengthAdjust="spacingAndGlyphs" transform="rotate(0.04 1377.5 368.2)" class="tb">&gt;1</text>
<text x="1551.7" y="368.2" font-size="22.9" text-anchor="middle" textLength="75.28" lengthAdjust="spacingAndGlyphs" transform="rotate(0.04 1551.7 368.2)" class="tb">&gt;14000</text>
<text x="1148.3" y="415.6" font-size="22.9" textLength="94.12" lengthAdjust="spacingAndGlyphs" transform="rotate(0.04 1148.3 415.6)" class="tb">VHH 2.80</text>
<text x="1377.5" y="415.6" font-size="22.9" text-anchor="middle" textLength="25.51" lengthAdjust="spacingAndGlyphs" transform="rotate(0.04 1377.5 415.6)" class="tb">&gt;1</text>
<text x="1551.7" y="415.6" font-size="22.9" text-anchor="middle" textLength="75.28" lengthAdjust="spacingAndGlyphs" transform="rotate(0.04 1551.7 415.6)" class="tb">&gt;14000</text>
</g>
</svg>
</body>
</html>
